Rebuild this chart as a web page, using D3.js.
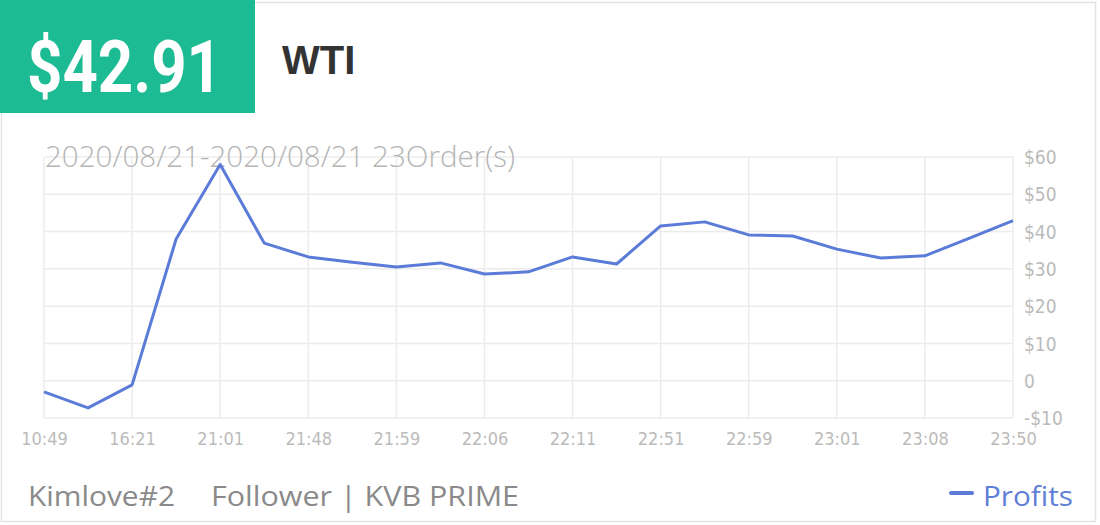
<!DOCTYPE html>
<html>
<head>
<meta charset="utf-8">
<script src="https://cdn.jsdelivr.net/npm/d3@7/dist/d3.min.js"></script>
<style>
  html, body { margin: 0; padding: 0; background: #fff; }
  svg { display: block; }
</style>
</head>
<body>
<svg id="chart" width="1100" height="525"></svg>
<script>
// ---- data ----
const priceLabel = "$42.91";
const symbolName = "WTI";
const subtitle = "2020/08/21-2020/08/21 23Order(s)";
const footerLeft = "Kimlove#2";
const footerMid = "Follower | KVB PRIME";
const seriesName = "Profits";
// x tick labels (shown at every other data point)
const tickLabels = ["10:49", "16:21", "21:01", "21:48", "21:59", "22:06", "22:11", "22:51", "22:59", "23:01", "23:08", "23:50"];
// profits at each of the 23 order points
const profits = [-3.0, -7.3, -1.1, 38.0, 58.0, 36.9, 33.2, 31.8, 30.5, 31.6, 28.6, 29.2, 33.2, 31.3, 41.5, 42.6, 39.1, 38.8, 35.3, 32.9, 33.5, 38.2, 42.91];
const yTicks = [-10, 0, 10, 20, 30, 40, 50, 60];

// ---- drawing ----
const svg = d3.select("#chart");
const green = "#1dbb94", lineColor = "#5b7bd8";

// card border
svg.append("rect").attr("x", 1.5).attr("y", 2.5).attr("width", 1094).attr("height", 519)
  .attr("fill", "#fff").attr("stroke", "#e3e3e3").attr("stroke-width", 1.5);

// header
svg.append("rect").attr("x", 0).attr("y", 0).attr("width", 255).attr("height", 113).attr("fill", green);
svg.append("text").attr("x", 27).attr("y", 92).text(priceLabel)
  .attr("font-family", "Roboto, 'DejaVu Sans', sans-serif").attr("font-weight", 700)
  .attr("font-size", 72).attr("fill", "#fff")
  .attr("textLength", 195).attr("lengthAdjust", "spacingAndGlyphs");
svg.append("text").attr("x", 282).attr("y", 74).text(symbolName)
  .attr("font-family", "'Liberation Sans', Arial, sans-serif").attr("font-weight", 700)
  .attr("font-size", 40).attr("fill", "#333");

// plot area
const x0 = 44, x1 = 1013, yTop = 157, yBot = 418;
const x = d3.scaleLinear().domain([0, profits.length - 1]).range([x0, x1]);
const y = d3.scaleLinear().domain([-10, 60]).range([yBot, yTop]);

const grid = svg.append("g");
grid.selectAll(".h").data(yTicks).join("line")
  .attr("x1", x0).attr("x2", x1).attr("y1", d => y(d)).attr("y2", d => y(d))
  .attr("stroke", "#ececec").attr("stroke-width", 1.5);
const tickIdx = tickLabels.map((_, i) => i * 2);
grid.selectAll(".v").data(tickIdx).join("line")
  .attr("x1", d => x(d)).attr("x2", d => x(d)).attr("y1", yTop).attr("y2", yBot)
  .attr("stroke", "#ececec").attr("stroke-width", 1.5);

// subtitle (drawn over grid)
svg.append("text").attr("x", 45).attr("y", 167).text(subtitle)
  .attr("font-family", "'Open Sans', sans-serif").attr("font-weight", 300)
  .attr("font-size", 30).attr("fill", "#b5b5b5")
  .attr("textLength", 470).attr("lengthAdjust", "spacingAndGlyphs");

// y axis labels
const yAxis = d3.axisRight(y).tickValues(yTicks).tickSize(0).tickPadding(0)
  .tickFormat(d => d < 0 ? "-$" + Math.abs(d) : (d === 0 ? "0" : "$" + d));
const ya = svg.append("g").attr("transform", `translate(1024,0)`).call(yAxis);
ya.select(".domain").remove();
ya.selectAll("text").attr("font-family", "'Liberation Sans Narrow', 'DejaVu Sans Condensed', sans-serif")
  .attr("font-size", 19).attr("fill", "#bbbbbb").attr("dy", "0.35em");

// x axis labels
const xAxis = d3.axisBottom(x).tickValues(tickIdx).tickSize(0).tickPadding(0)
  .tickFormat((d, i) => tickLabels[i]);
const xa = svg.append("g").attr("transform", `translate(0,432)`).call(xAxis);
xa.select(".domain").remove();
xa.selectAll("text").attr("font-family", "'Liberation Sans Narrow', 'DejaVu Sans Condensed', sans-serif")
  .attr("font-size", 18).attr("fill", "#bbbbbb").attr("dy", "0.71em");

// line
const line = d3.line().x((d, i) => x(i)).y(d => y(d));
svg.append("path").datum(profits).attr("d", line)
  .attr("fill", "none").attr("stroke", lineColor).attr("stroke-width", 3)
  .attr("stroke-linejoin", "round");

// footer
svg.append("text").attr("x", 28).attr("y", 506).text(footerLeft)
  .attr("font-family", "'Open Sans', sans-serif").attr("font-size", 28).attr("fill", "#8a8a8a")
  .attr("textLength", 147).attr("lengthAdjust", "spacingAndGlyphs");
svg.append("text").attr("x", 211).attr("y", 506).text(footerMid)
  .attr("font-family", "'Open Sans', sans-serif").attr("font-size", 28).attr("fill", "#8a8a8a")
  .attr("textLength", 308).attr("lengthAdjust", "spacingAndGlyphs");
svg.append("line").attr("x1", 951).attr("x2", 972).attr("y1", 493).attr("y2", 493)
  .attr("stroke", lineColor).attr("stroke-width", 4).attr("stroke-linecap", "round");
svg.append("text").attr("x", 983).attr("y", 506).text(seriesName)
  .attr("font-family", "'Open Sans', sans-serif").attr("font-size", 28).attr("fill", "#5f7fd6")
  .attr("textLength", 90).attr("lengthAdjust", "spacingAndGlyphs");
</script>
</body>
</html>
